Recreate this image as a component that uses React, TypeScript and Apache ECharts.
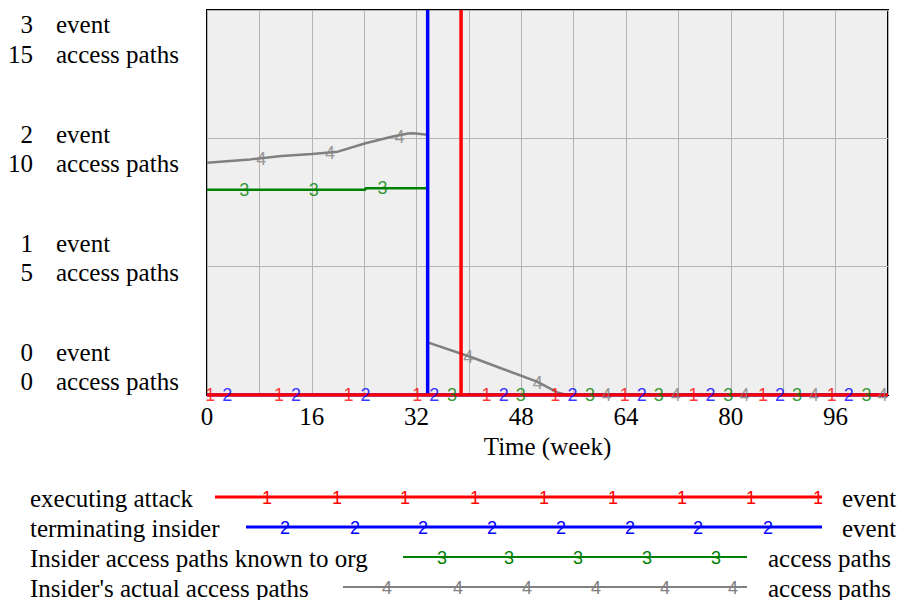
import React, { useEffect, useRef } from "react";
import * as echarts from "echarts";

// ---- data ----
const attackData: [number, number][] = [[0, 0], [38.8, 0], [38.8, 3], [38.8, 0], [104, 0]];
const terminateData: [number, number][] = [[0, 0], [33.7, 0], [33.7, 3], [33.7, 0], [104, 0]];
const knownPathsData: [number, number][] = [[0, 8.0], [24.2, 8.0], [24.2, 8.06], [33.7, 8.06], [33.7, 0], [104, 0]];
const actualPathsData: [number, number][] = [
  [0, 9.05], [6.6, 9.18], [11.4, 9.31], [16, 9.39], [20, 9.48], [24.2, 9.81], [28.2, 10.06],
  [30.7, 10.19], [31.5, 10.2], [33.7, 10.14], [33.7, 2.05], [40.2, 1.49], [50.4, 0.52],
  [53.5, 0.1], [55, 0], [104, 0],
];

// marker positions (week, value) for the numbered line markers
const attackMarks: [number, number][] = [[0.5, 0], [11.0, 0], [21.6, 0], [32.1, 0], [42.7, 0], [53.2, 0], [63.8, 0], [74.3, 0], [84.9, 0], [95.4, 0]];
const terminateMarks: [number, number][] = [[3.1, 0], [13.6, 0], [24.2, 0], [34.7, 0], [45.3, 0], [55.8, 0], [66.4, 0], [76.9, 0], [87.5, 0], [98.0, 0]];
const knownMarks: [number, number][] = [[5.7, 8.0], [16.3, 8.0], [26.8, 8.06], [37.4, 0], [47.9, 0], [58.5, 0], [69.0, 0], [79.6, 0], [90.1, 0], [100.7, 0]];
const actualMarks: [number, number][] = [[8.3, 9.18], [18.8, 9.42], [29.4, 10.04], [39.9, 1.5], [50.5, 0.46], [61.0, 0], [71.6, 0], [82.1, 0], [92.7, 0], [103.2, 0]];

const eventTicks = ["3", "2", "1", "0"];
const pathTicks = ["15", "10", "5", "0"];
const eventUnit = "event";
const pathUnit = "access paths";
const xTitle = "Time (week)";

const legendNames = ["executing attack", "terminating insider", "Insider access paths known to org", "Insider's actual access paths"];
const legendUnits = ["event", "event", "access paths", "access paths"];
const markerDigits = ["1", "2", "3", "4"];

// ---- styles / layout ----
const COLORS = ["#ff0000", "#0000ff", "#008000", "#808080"];
const SERIF = "Liberation Serif";
const SANS = "Liberation Sans";
const LINE_W = [3.5, 3.5, 2.5, 2.5];

const eventLabelY = [24.6, 134.6, 243.6, 352.6];
const pathLabelY = [54.6, 163.6, 272.6, 381.6];

const legendRowY = [497, 527, 557, 587];
const legendLineStart = [215, 246, 403, 343];
const legendLineEnd = [822, 822, 747, 747];
const legendUnitX = [842, 842, 768, 768];
const legendMarkX = [
  [267, 337, 405, 475, 544, 613, 682, 751, 818],
  [285, 355, 423, 492, 561, 630, 698, 768],
  [442, 509, 578, 647, 716],
  [387, 458, 527, 596, 665, 733],
];

function txt(text: string, x: number, y: number, align: string, family: string, size: number, fill: string) {
  return {
    type: "text",
    silent: true,
    z: 100,
    x,
    y,
    style: {
      text,
      align,
      verticalAlign: "middle",
      textAlign: align,
      textVerticalAlign: "middle",
      fontFamily: family,
      fontSize: size,
      fill,
    },
  };
}

export default function App() {
  const ref = useRef<HTMLDivElement>(null);
  useEffect(() => {
    const chart = echarts.init(ref.current!, null, { renderer: "svg" });
    const graphics: any[] = [];
    eventTicks.forEach((t, i) => {
      graphics.push(txt(t, 33, eventLabelY[i], "right", SERIF, 25, "#000"));
      graphics.push(txt(eventUnit, 56, eventLabelY[i], "left", SERIF, 25, "#000"));
      graphics.push(txt(pathTicks[i], 33, pathLabelY[i], "right", SERIF, 25, "#000"));
      graphics.push(txt(pathUnit, 56, pathLabelY[i], "left", SERIF, 25, "#000"));
    });
    legendNames.forEach((name, i) => {
      const y = legendRowY[i];
      graphics.push(txt(name, 30, y + 1, "left", SERIF, 25, "#000"));
      graphics.push({
        type: "line",
        silent: true,
        z: 90,
        shape: { x1: legendLineStart[i], y1: y, x2: legendLineEnd[i], y2: y },
        style: { stroke: COLORS[i], lineWidth: LINE_W[i] - 0.5 },
      });
      legendMarkX[i].forEach((mx) => graphics.push(txt(markerDigits[i], mx, y + 1, "center", SANS, 18, COLORS[i])));
      graphics.push(txt(legendUnits[i], legendUnitX[i], y + 1, "left", SERIF, 25, "#000"));
    });

    const lineSeries = (data: [number, number][], idx: number, yAxisIndex: number) => ({
      type: "line",
      data,
      yAxisIndex,
      showSymbol: false,
      symbol: "none",
      silent: true,
      clip: true,
      lineStyle: { color: COLORS[idx], width: LINE_W[idx] },
      z: 3,
    });
    const markSeries = (data: [number, number][], idx: number, yAxisIndex: number) => ({
      type: "scatter",
      data,
      yAxisIndex,
      symbol: "circle",
      symbolSize: 1,
      silent: true,
      itemStyle: { color: "rgba(0,0,0,0)" },
      label: {
        show: true,
        position: "inside",
        formatter: markerDigits[idx],
        color: COLORS[idx],
        fontSize: 18,
        fontFamily: SANS,
      },
      z: 5,
    });

    chart.setOption({
      animation: false,
      backgroundColor: "#ffffff",
      grid: {
        left: 207,
        top: 10,
        width: 681,
        height: 385,
        show: true,
        backgroundColor: "#efefef",
        borderColor: "#000000",
        borderWidth: 2,
        containLabel: false,
      },
      xAxis: {
        type: "value",
        min: 0,
        max: 104,
        interval: 8,
        axisLine: { show: false },
        axisTick: { show: false },
        splitLine: { show: true, lineStyle: { color: "#b4b4b4", width: 1 } },
        axisLabel: {
          margin: 9,
          fontSize: 25,
          fontFamily: SERIF,
          color: "#000",
          formatter: (v: number) => (v % 16 === 0 ? String(v) : ""),
        },
        name: xTitle,
        nameLocation: "middle",
        nameGap: 39,
        nameTextStyle: { fontSize: 25, fontFamily: SERIF, color: "#000" },
      },
      yAxis: [
        {
          type: "value",
          min: 0,
          max: 3,
          interval: 1,
          axisLine: { show: false },
          axisTick: { show: false },
          axisLabel: { show: false },
          splitLine: { show: true, lineStyle: { color: "#b4b4b4", width: 1 } },
        },
        {
          type: "value",
          min: 0,
          max: 15,
          interval: 5,
          show: false,
          splitLine: { show: false },
        },
      ],
      series: [
        lineSeries(actualPathsData, 3, 1),
        lineSeries(knownPathsData, 2, 1),
        lineSeries(terminateData, 1, 0),
        lineSeries(attackData, 0, 0),
        markSeries(actualMarks, 3, 1),
        markSeries(knownMarks, 2, 1),
        markSeries(terminateMarks, 1, 0),
        markSeries(attackMarks, 0, 0),
      ],
      graphic: graphics,
    });
    return () => chart.dispose();
  }, []);
  return (
    <div
      ref={ref}
      style={{ position: "absolute", left: 0, top: 0, width: 901, height: 600, background: "#fff" }}
    />
  );
}
